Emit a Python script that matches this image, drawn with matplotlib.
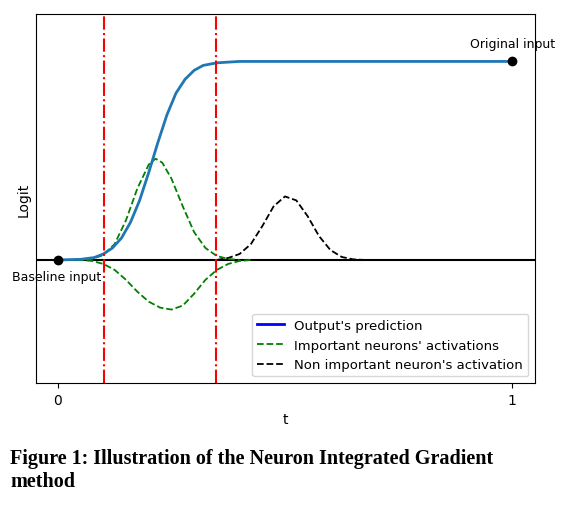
import matplotlib.pyplot as plt
from matplotlib.lines import Line2D

# values (t, logit)
pred_t = [0, 0.05, 0.08, 0.1, 0.12, 0.14, 0.16, 0.18, 0.2, 0.22, 0.24, 0.26, 0.28, 0.3, 0.32, 0.35, 0.4, 0.5, 0.7, 1.0]
pred_y = [0, 0.003, 0.012, 0.03, 0.06, 0.11, 0.19, 0.3, 0.44, 0.59, 0.73, 0.84, 0.91, 0.955, 0.98, 0.993, 1.0, 1.0, 1.0, 1.0]

pos_t = [0, 0.05, 0.075, 0.1, 0.125, 0.15, 0.175, 0.2, 0.215, 0.23, 0.25, 0.275, 0.3, 0.325, 0.35, 0.375, 0.4]
pos_y = [0, 0.0, 0.005, 0.025, 0.08, 0.2, 0.36, 0.48, 0.51, 0.49, 0.41, 0.27, 0.14, 0.06, 0.02, 0.005, 0]

neg_t = [0, 0.05, 0.075, 0.1, 0.125, 0.15, 0.175, 0.2, 0.225, 0.25, 0.275, 0.3, 0.325, 0.35, 0.375, 0.4, 0.425]
neg_y = [0, 0, -0.005, -0.02, -0.05, -0.1, -0.16, -0.21, -0.24, -0.25, -0.23, -0.17, -0.1, -0.05, -0.02, -0.005, 0]

non_t = [0.35, 0.375, 0.4, 0.425, 0.45, 0.475, 0.5, 0.525, 0.55, 0.575, 0.6, 0.625, 0.65, 0.675]
non_y = [0, 0.01, 0.03, 0.08, 0.17, 0.27, 0.32, 0.3, 0.22, 0.12, 0.05, 0.015, 0.003, 0]

steps = [0.101, 0.348]

fig = plt.figure(figsize=(5.72, 5.10), dpi=100)
ax = fig.add_axes([0.063, 0.247, 0.872, 0.724])

ax.axhline(0, color='black', lw=1.5)
ax.plot(non_t, non_y, '--', color='black', lw=1.3)
ax.plot(pos_t, pos_y, '--', color='green', lw=1.3)
ax.plot(neg_t, neg_y, '--', color='green', lw=1.3)
ax.plot(pred_t, pred_y, color='tab:blue', lw=2)
for s in steps:
    ax.axvline(s, color='red', ls='-.', lw=1.5)
ax.plot([0, 1], [0, 1], 'o', color='black', ms=6)
ax.text(1, 1.06, 'Original input', ha='center', va='bottom', fontsize=9)
ax.text(-0.102, -0.05, 'Baseline input', ha='left', va='top', fontsize=9)

ax.set_xlim(-0.048, 1.05)
ax.set_ylim(-0.62, 1.24)
ax.set_xticks([0, 1])
ax.set_yticks([])
ax.set_xlabel('t')
ax.set_ylabel('Logit')

handles = [Line2D([], [], color='blue', lw=2),
           Line2D([], [], color='green', ls='--', lw=1.3),
           Line2D([], [], color='black', ls='--', lw=1.3)]
ax.legend(handles, ["Output's prediction", "Important neurons' activations",
                    "Non important neuron's activation"], loc='lower right', fontsize=9.5)

fig.text(0.018, 0.078, 'Figure 1: Illustration of the Neuron Integrated Gradient\nmethod',
         family='Liberation Serif', weight='bold', fontsize=14.5, ha='left', va='center',
         linespacing=1.2)

plt.savefig('out.png', dpi=100)
